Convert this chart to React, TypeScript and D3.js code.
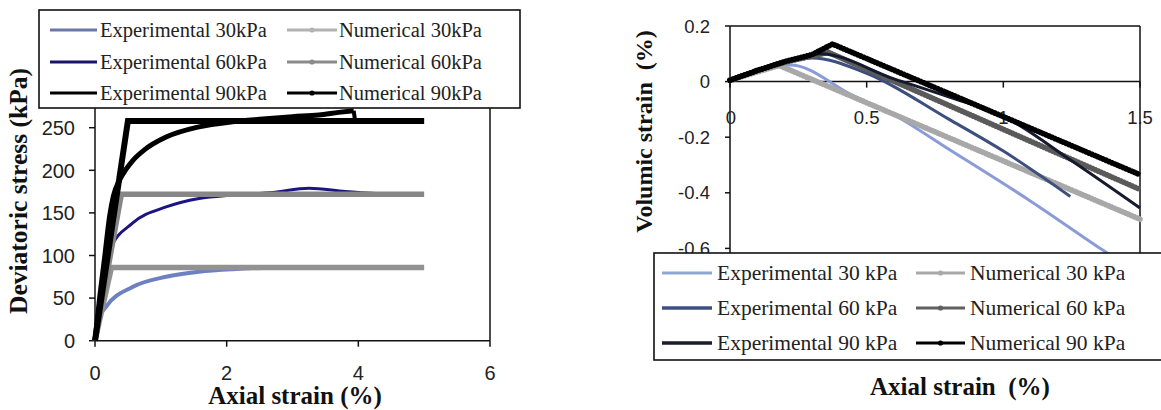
import React from "react";
import * as d3 from "d3";

// ---------- Left panel: deviatoric stress vs axial strain ----------
const stressTicks = [0, 50, 100, 150, 200, 250];
const strainTicksLeft = [0, 2, 4, 6];

// [axial strain %, deviatoric stress kPa]
const expStress30: [number, number][] = [
  [0, 0], [0.02, 20], [0.17, 40], [0.57, 63], [1.08, 75], [1.58, 81], [2.09, 84], [3.0, 86], [4.0, 86],
];
const expStress60: [number, number][] = [
  [0, 0], [0.07, 40], [0.22, 106], [0.57, 138], [1.08, 157], [1.58, 167], [2.09, 171], [2.7, 174],
  [3.25, 179], [3.8, 175], [4.4, 172],
];
const expStress90: [number, number][] = [
  [0, 0], [0.07, 50], [0.15, 100], [0.22, 145], [0.28, 170], [0.37, 188], [0.47, 201], [0.58, 212],
  [0.75, 224], [1.08, 239], [1.58, 251], [2.09, 257], [2.5, 260], [3.0, 263], [3.4, 265], [3.7, 268],
  [3.93, 270], [3.95, 258],
];
const numStress30: [number, number][] = [[0, 0], [0.25, 86], [5, 86]];
const numStress60: [number, number][] = [[0, 0], [0.4, 172], [5, 172]];
const numStress90: [number, number][] = [[0, 0], [0.5, 258], [5, 258]];

// ---------- Right panel: volumic strain vs axial strain ----------
const volTicks = [0.2, 0, -0.2, -0.4, -0.6];
const strainTicksRight = [0, 0.5, 1, 1.5];

// [axial strain %, volumic strain %]
const expVol30: [number, number][] = [
  [0, 0.005], [0.1, 0.035], [0.22, 0.06], [0.45, -0.05], [0.6, -0.12], [0.805, -0.246], [1.1, -0.43],
  [1.365, -0.607], [1.47, -0.675],
];
const expVol60: [number, number][] = [
  [0, 0.005], [0.1, 0.04], [0.2, 0.068], [0.3, 0.085], [0.5, 0.03], [0.8, -0.135], [1.0, -0.25], [1.245, -0.413],
];
const expVol90: [number, number][] = [
  [0, 0.005], [0.1, 0.04], [0.2, 0.07], [0.33, 0.1], [0.6, 0.01], [0.8, -0.055], [1.0, -0.125], [1.25, -0.285], [1.5, -0.455],
];
const numVol30: [number, number][] = [[0, 0.005], [0.1, 0.035], [0.18, 0.058], [1.5, -0.495]];
const numVol60: [number, number][] = [[0, 0.005], [0.1, 0.04], [0.2, 0.07], [0.36, 0.105], [1.5, -0.388]];
const numVol90: [number, number][] = [[0, 0.005], [0.1, 0.04], [0.2, 0.072], [0.3, 0.097], [0.375, 0.135], [1.5, -0.335]];

const SANS = "'Liberation Sans', Arial, sans-serif";
const SERIF = "'Liberation Serif', 'Times New Roman', serif";

// left scales
const xL = d3.scaleLinear().domain([0, 6]).range([95, 490]);
const yL = d3.scaleLinear().domain([0, 300]).range([340.7, 85.1]);
// right scales
const xR = d3.scaleLinear().domain([0, 1.5]).range([730, 1140]);
const yR = d3.scaleLinear().domain([-0.8, 0.2]).range([304, 26]);

const lineL = d3.line<[number, number]>().x((d) => xL(d[0])).y((d) => yL(d[1])).curve(d3.curveMonotoneX);
const lineLStraight = d3.line<[number, number]>().x((d) => xL(d[0])).y((d) => yL(d[1]));
const lineR = d3.line<[number, number]>().x((d) => xR(d[0])).y((d) => yR(d[1])).curve(d3.curveMonotoneX);
const lineRStraight = d3.line<[number, number]>().x((d) => xR(d[0])).y((d) => yR(d[1]));

// beaded line for simulation series (line + dense round markers)
function Beaded({ d, color, width }: { d: string; color: string; width: number }) {
  return (
    <g>
      <path d={d} fill="none" stroke={color} strokeWidth={width - 1} strokeLinejoin="round" />
      <path d={d} fill="none" stroke={color} strokeWidth={width + 0.8} strokeLinecap="round" strokeDasharray="0.1 3" />
    </g>
  );
}

type LegendItem = { label: string; color: string; marker: boolean; width: number };

function Legend({
  x, y, w, h, rows, col1, col2, items, fontSize,
}: {
  x: number; y: number; w: number; h: number; rows: number[];
  col1: [number, number, number]; col2: [number, number, number];
  items: LegendItem[]; fontSize: number;
}) {
  return (
    <g>
      <rect x={x} y={y} width={w} height={h} fill="#fff" stroke="#111" strokeWidth={1.6} />
      {items.map((it, i) => {
        const col = i % 2 === 0 ? col1 : col2;
        const ry = rows[Math.floor(i / 2)];
        return (
          <g key={it.label}>
            <line x1={col[0]} x2={col[1]} y1={ry} y2={ry} stroke={it.color} strokeWidth={it.width} />
            {it.marker && <circle cx={(col[0] + col[1]) / 2} cy={ry} r={2.6} fill={it.color} />}
            <text x={col[2]} y={ry} dy="0.33em" fontFamily={SERIF} fontSize={fontSize} fill="#222">
              {it.label}
            </text>
          </g>
        );
      })}
    </g>
  );
}

export default function App() {
  const legendLeft: LegendItem[] = [
    { label: "Experimental 30kPa", color: "#6b78a8", marker: false, width: 3 },
    { label: "Numerical 30kPa", color: "#b2b2b2", marker: true, width: 3 },
    { label: "Experimental 60kPa", color: "#1a1470", marker: false, width: 3 },
    { label: "Numerical 60kPa", color: "#8a8a8a", marker: true, width: 3 },
    { label: "Experimental 90kPa", color: "#000", marker: false, width: 3 },
    { label: "Numerical 90kPa", color: "#000", marker: true, width: 3 },
  ];
  const legendRight: LegendItem[] = [
    { label: "Experimental 30 kPa", color: "#8fa8d0", marker: false, width: 3 },
    { label: "Numerical 30 kPa", color: "#a9a9a9", marker: true, width: 3 },
    { label: "Experimental 60 kPa", color: "#3c5080", marker: false, width: 3.5 },
    { label: "Numerical 60 kPa", color: "#606060", marker: true, width: 3 },
    { label: "Experimental 90 kPa", color: "#1a1d2c", marker: false, width: 3.5 },
    { label: "Numerical 90 kPa", color: "#000", marker: true, width: 3 },
  ];

  return (
    <svg width={1161} height={410} style={{ position: "absolute", left: 0, top: 0, background: "#fff" }}>
      <rect x={0} y={0} width={1161} height={410} fill="#fff" />

      {/* ===== Left panel ===== */}
      <g>
        {/* frame */}
        <line x1={xL(0)} x2={xL(0)} y1={yL(300)} y2={yL(0)} stroke="#111" strokeWidth={1.5} />
        <line x1={xL(6)} x2={xL(6)} y1={yL(300)} y2={yL(0)} stroke="#111" strokeWidth={1.5} />
        <line x1={xL(0)} x2={xL(6)} y1={yL(0)} y2={yL(0)} stroke="#111" strokeWidth={1.5} />
        {stressTicks.map((t) => (
          <g key={t}>
            <line x1={xL(0) - 6} x2={xL(0)} y1={yL(t)} y2={yL(t)} stroke="#111" strokeWidth={1.5} />
            <text x={75} y={yL(t)} dy="0.36em" textAnchor="end" fontFamily={SANS} fontSize={20} fill="#222">
              {t}
            </text>
          </g>
        ))}
        {strainTicksLeft.map((t) => (
          <g key={t}>
            <line x1={xL(t)} x2={xL(t)} y1={yL(0)} y2={yL(0) + 6} stroke="#111" strokeWidth={1.5} />
            <text x={xL(t)} y={380} textAnchor="middle" fontFamily={SANS} fontSize={20} fill="#222">
              {t}
            </text>
          </g>
        ))}

        {/* experimental curves */}
        <path d={lineL(expStress30)!} fill="none" stroke="#6d80c2" strokeWidth={4} />
        <path d={lineL(expStress60)!} fill="none" stroke="#1c1580" strokeWidth={3} />
        <path d={lineL(expStress90.slice(0, -1))!} fill="none" stroke="#000" strokeWidth={5} strokeLinejoin="round" />
        <path d={lineLStraight(expStress90.slice(-2))!} fill="none" stroke="#000" strokeWidth={4} />
        {/* numerical curves */}
        <path d={lineLStraight(numStress30)!} fill="none" stroke="#929292" strokeWidth={5.5} />
        <path d={lineLStraight(numStress60)!} fill="none" stroke="#878787" strokeWidth={5.5} />
        <path d={lineLStraight(numStress90)!} fill="none" stroke="#000" strokeWidth={6} />

        <Legend
          x={39} y={10} w={481} h={98} rows={[30, 62, 93]}
          col1={[50, 97, 100]} col2={[287, 337, 339]} items={legendLeft} fontSize={20.5}
        />

        <text x={295} y={404} textAnchor="middle" fontFamily={SERIF} fontWeight="bold" fontSize={25} fill="#111">
          Axial strain (%)
        </text>
        <text transform="translate(27,191) rotate(-90)" textAnchor="middle" fontFamily={SERIF} fontWeight="bold" fontSize={25.5} fill="#111">
          Deviatoric stress (kPa)
        </text>
      </g>

      {/* ===== Right panel ===== */}
      <g>
        <line x1={xR(0)} x2={xR(1.5)} y1={yR(0.2)} y2={yR(0.2)} stroke="#111" strokeWidth={1.5} />
        <line x1={xR(0)} x2={xR(0)} y1={yR(0.2)} y2={yR(-0.8)} stroke="#111" strokeWidth={1.5} />
        <line x1={xR(1.5)} x2={xR(1.5)} y1={yR(0.2)} y2={yR(-0.8)} stroke="#111" strokeWidth={1.5} />
        <line x1={xR(0)} x2={xR(1.5)} y1={yR(0)} y2={yR(0)} stroke="#111" strokeWidth={1.5} />
        {volTicks.map((t) => (
          <g key={t}>
            <line x1={xR(0) - 5} x2={xR(0)} y1={yR(t)} y2={yR(t)} stroke="#111" strokeWidth={1.5} />
            <text x={710} y={yR(t)} dy="0.36em" textAnchor="end" fontFamily={SANS} fontSize={18.5} fill="#222">
              {t === 0 ? "0" : t.toFixed(1)}
            </text>
          </g>
        ))}
        {strainTicksRight.map((t) => (
          <g key={t}>
            <line x1={xR(t)} x2={xR(t)} y1={yR(0)} y2={yR(0) + 6} stroke="#111" strokeWidth={1.5} />
            <text x={xR(t) + (t === 0 ? 1 : 0)} y={124} textAnchor="middle" fontFamily={SANS} fontSize={18.5} fill="#222">
              {t}
            </text>
          </g>
        ))}

        <path d={lineR(expVol30)!} fill="none" stroke="#8b9bd8" strokeWidth={3} />
        <Beaded d={lineRStraight(numVol30)!} color="#a8a8a8" width={5} />
        <path d={lineR(expVol60)!} fill="none" stroke="#3d4f7f" strokeWidth={3} />
        <Beaded d={lineRStraight(numVol60)!} color="#5a5a5a" width={5} />
        <path d={lineR(expVol90)!} fill="none" stroke="#151a2e" strokeWidth={3} />
        <Beaded d={lineRStraight(numVol90)!} color="#000" width={5} />

        <Legend
          x={654} y={253} w={520} h={107} rows={[273, 308, 343]}
          col1={[662, 712, 717]} col2={[916, 965, 970]} items={legendRight} fontSize={21.5}
        />

        <text x={960} y={395} textAnchor="middle" fontFamily={SERIF} fontWeight="bold" fontSize={25} fill="#111" style={{ whiteSpace: "pre" }}>
          {"Axial strain  (%)"}
        </text>
        <text transform="translate(652,131.5) rotate(-90)" textAnchor="middle" fontFamily={SERIF} fontWeight="bold" fontSize={24} fill="#111" style={{ whiteSpace: "pre" }}>
          {"Volumic strain  (%)"}
        </text>
      </g>
    </svg>
  );
}
